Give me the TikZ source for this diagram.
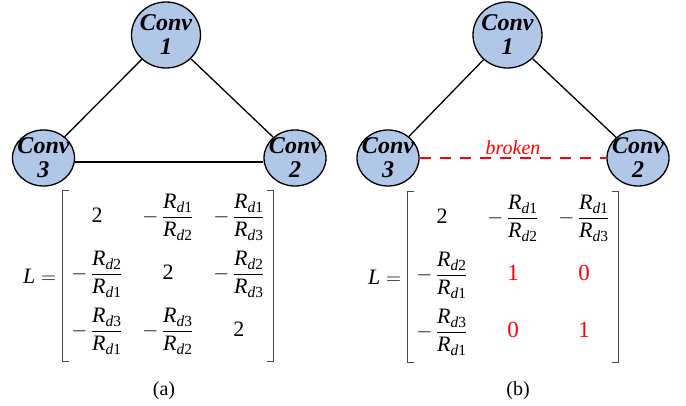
\documentclass[tikz,border=0pt]{standalone}
\usepackage{amsmath}
\usepackage{fontspec}
\setmainfont{Liberation Serif}
\usetikzlibrary{shapes.geometric, matrix, positioning}
\definecolor{convblue}{RGB}{176,199,232}
\definecolor{brkgray}{RGB}{70,70,90}
\newcommand{\Rd}[1]{\textit{R}_{\textit{d}\text{#1}}}
\newcommand{\rz}[1]{\textcolor{red}{\text{\fontsize{23}{25}\selectfont#1}}}

\begin{document}
\begin{tikzpicture}[
  x=1pt, y=-1pt,
  conv/.style ={ellipse, draw, line width=1.3pt, fill=convblue, align=center, inner sep=-7pt,
                minimum width=62pt, minimum height=56pt,
                font=\fontsize{24}{24}\selectfont\bfseries\itshape},
  hub/.style  ={conv, minimum width=69pt, minimum height=66pt},
  link/.style ={line width=1.3pt},
  cut/.style  ={red, line width=2pt, dash pattern=on 11pt off 9pt},
  lap/.style  ={matrix of math nodes, inner xsep=4.5pt, inner ysep=3pt,
                column sep=11pt, row sep=6pt,
                nodes={minimum width=60pt, text height=29pt, text depth=22pt,
                       inner sep=0pt, anchor=center, font=\fontsize{22}{26}\selectfont}},
  brack/.style={line width=1.1pt, draw=brkgray},
  eq/.style   ={inner sep=0pt, font=\fontsize{22}{26}\selectfont},
  subcap/.style={font=\fontsize{20}{24}\selectfont},
  brokentxt/.style={red, inner sep=2pt, font=\fontsize{20}{24}\selectfont\itshape},
]
  \useasboundingbox (0,0) rectangle (686,406);

  % (a) full ring
  \node[hub]  (a1) at (166,35)    {Conv\\1};
  \node[conv] (a3) at (43.5,158)  {Conv\\3};
  \node[conv] (a2) at (295,158)   {Conv\\2};
  \draw[link] (a1) -- (a3);
  \draw[link] (a1) -- (a2);
  \draw[link] ([yshift=-4pt]a3.east) -- ([yshift=-4pt]a2.west);

  \matrix[lap] (ma) at (168,276) {
    \text{2} & -\,\dfrac{\Rd1}{\Rd2} & -\,\dfrac{\Rd1}{\Rd3} \\
    -\,\dfrac{\Rd2}{\Rd1} & \text{2} & -\,\dfrac{\Rd2}{\Rd3} \\
    -\,\dfrac{\Rd3}{\Rd1} & -\,\dfrac{\Rd3}{\Rd2} & \text{2} \\
  };
  \draw[brack] ([xshift=7pt]ma.north west) -| (ma.south west) -- ++(7pt,0);
  \draw[brack] ([xshift=-7pt]ma.north east) -| (ma.south east) -- ++(-7pt,0);
  \node[eq, left=6pt of ma] (la) {$\textit{L}=$};
  \node[subcap] (capa) at (164,391) {(a)};

  % (b) link 3--2 broken
  \node[hub]  (b1) at (507.5,35) {Conv\\1};
  \node[conv] (b3) at (388,158)  {Conv\\3};
  \node[conv] (b2) at (638,158)  {Conv\\2};
  \draw[link] (b1) -- (b3);
  \draw[link] (b1) -- (b2);
  \draw[cut]  (b3) -- node[above, brokentxt] (brk) {broken} (b2);

  \matrix[lap] (mb) at (513,277) {
    \text{2} & -\,\dfrac{\Rd1}{\Rd2} & -\,\dfrac{\Rd1}{\Rd3} \\
    -\,\dfrac{\Rd2}{\Rd1} & \rz{1} & \rz{0} \\
    -\,\dfrac{\Rd3}{\Rd1} & \rz{0} & \rz{1} \\
  };
  \draw[brack] ([xshift=7pt]mb.north west) -| (mb.south west) -- ++(7pt,0);
  \draw[brack] ([xshift=-7pt]mb.north east) -| (mb.south east) -- ++(-7pt,0);
  \node[eq, left=6pt of mb] (lb) {$\textit{L}=$};
  \node[subcap] (capb) at (518,391) {(b)};
\end{tikzpicture}
\end{document}
